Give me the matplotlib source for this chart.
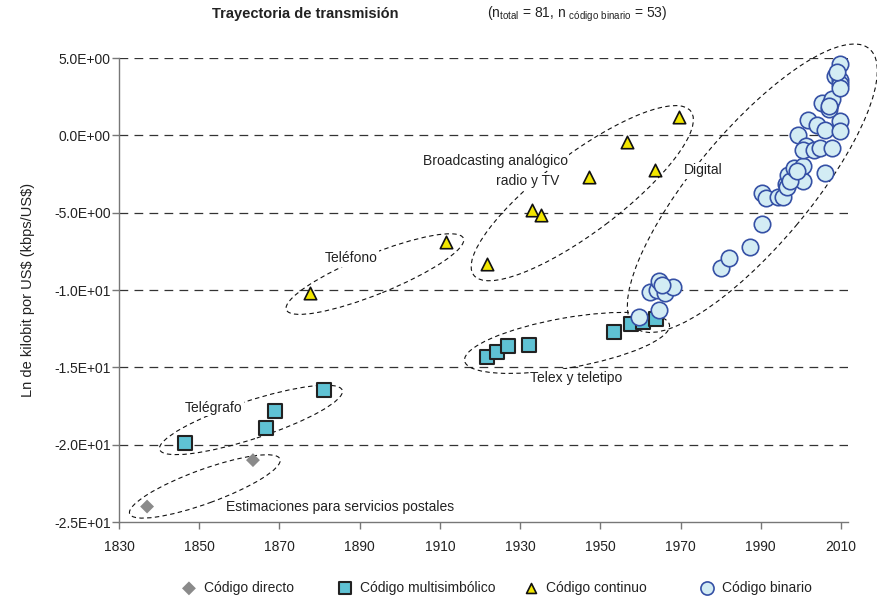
import matplotlib
matplotlib.use("Agg")
import matplotlib.pyplot as plt
from matplotlib.patches import Ellipse
from matplotlib.transforms import ScaledTranslation

plt.rcParams['font.family'] = ['Liberation Sans', 'DejaVu Sans']

# Data (year, ln kbps/US$)
directo_year = [1837.0, 1863.4]
directo_val = [-24.0, -21.0]

multi_year = [1846.5, 1866.6, 1868.8, 1881.1,
              1921.8, 1924.2, 1927.1, 1932.1, 1953.5, 1957.7, 1960.6, 1963.9]
multi_val = [-19.9, -18.9, -17.85, -16.45,
             -14.35, -14.0, -13.6, -13.55, -12.7, -12.2, -12.1, -11.9]

continuo_year = [1877.6, 1911.6, 1921.7, 1933.0, 1935.1, 1947.3, 1956.6, 1963.7, 1969.7]
continuo_val = [-10.2, -6.9, -8.3, -4.85, -5.15, -2.7, -0.43, -2.26, 1.18]

binario_year = [1959.7, 1964.7, 1962.4, 1964.2, 1966.2, 1968.1, 1964.7, 1965.5,
                1980.0, 1982.2, 1987.4, 1990.3, 1990.3, 1991.3, 1994.4, 1995.5,
                1996.3, 1996.9, 1998.6, 1999.7, 2000.6, 1996.5, 1997.4, 1998.3,
                2000.6, 2005.9, 1999.0, 1999.4, 2001.3, 2000.6, 2003.2, 2004.7,
                2007.7, 2001.9, 2004.0, 2005.9, 2009.8, 2009.8, 2005.2, 2007.3,
                2007.7, 2006.9, 2007.0, 2009.8, 2008.6, 2009.8, 2009.8, 2009.8,
                2009.0]
binario_val = [-11.74, -11.29, -10.11, -10.0, -10.17, -9.83, -9.42, -9.7,
               -8.6, -7.95, -7.25, -5.76, -3.76, -4.06, -3.97, -4.0,
               -3.12, -2.58, -2.69, -2.73, -2.95, -3.34, -2.95, -2.11,
               -2.0, -2.43, -2.3, 0.0, -0.71, -0.92, -0.97, -0.79,
               -0.79, 1.01, 0.65, 0.32, 0.92, 0.28, 2.08, 2.05,
               2.37, 1.72, 1.9, 4.58, 3.81, 3.55, 3.35, 3.08,
               4.1]

xticks = [1830, 1850, 1870, 1890, 1910, 1930, 1950, 1970, 1990, 2010]
yticks = [5, 0, -5, -10, -15, -20, -25]
ytick_labels = ['5.0E+00', '0.0E+00', '-5.0E+00', '-1.0E+01', '-1.5E+01', '-2.0E+01', '-2.5E+01']

legend_labels = ['Código directo', 'Código multisimbólico', 'Código continuo', 'Código binario']
legend_x = [182, 338, 524, 700]   # pixel position of each legend entry

# grouping ellipses: centre (year, value), width/height in pixels, angle (deg)
groups = [
    (1851.4, -22.7, 160, 34, 20),
    (1862.9, -18.4, 192, 38, 18),
    (1893.8, -8.97, 191, 40, 22),
    (1945.5, -3.74, 272, 78, 37),
    (1941.7, -13.42, 208, 50, 10),
    (1987.9, -3.42, 364, 115, 50),
]

fig = plt.figure(figsize=(8.78, 6.0), dpi=100)
ax = fig.add_axes([119 / 878, 78 / 600, 729 / 878, 464 / 600])
ax.set_xlim(1830, 2011.75)
ax.set_ylim(-25, 5)

for y in yticks[:-1]:
    ax.axhline(y, color='#333333', lw=0.9, ls=(0, (7, 5)), zorder=1)

for s in ['top', 'right']:
    ax.spines[s].set_visible(False)
for s in ['left', 'bottom']:
    ax.spines[s].set_color('#777777')
    ax.spines[s].set_linewidth(1.0)

ax.set_xticks(xticks)
ax.set_yticks(yticks)
ax.set_yticklabels(ytick_labels)
ax.tick_params(axis='both', colors='#777777', labelcolor='#222222', labelsize=10, length=5, width=1.0)
ax.tick_params(axis='y', pad=1)
ax.tick_params(axis='x', pad=8)
ax.set_ylabel(r'Ln de kilobit por US\$ (kbps/US\$)', fontsize=10.5, color='#222222', labelpad=14)

for cx, cy, w, h, ang in groups:
    tr = fig.dpi_scale_trans + ScaledTranslation(cx, cy, ax.transData)
    e = Ellipse((0, 0), w / 100, h / 100, angle=ang, transform=tr, fill=False,
                ec='#111111', lw=0.8, ls=(0, (4, 3)), zorder=2, clip_on=False)
    ax.add_patch(e)

h1 = ax.scatter(directo_year, directo_val, marker='D', s=50, c='#8a8a8a', edgecolors='none',
                zorder=4, clip_on=False)
h2 = ax.scatter(multi_year, multi_val, marker='s', s=110, c='#5fc2d4', edgecolors='#222222',
                linewidths=1.5, zorder=4, clip_on=False)
h3 = ax.scatter(continuo_year, continuo_val, marker='^', s=80, c='#f2e600', edgecolors='#111111',
                linewidths=1.2, zorder=4, clip_on=False)
h4 = ax.scatter(binario_year, binario_val, marker='o', s=140, c='#d3ecf4', edgecolors='#3550a5',
                linewidths=1.2, zorder=5, clip_on=False)

box = dict(fc='white', ec='none', pad=1)
txt = dict(fontsize=10, color='#222222', ha='center', va='center', zorder=3, bbox=box)
ax.text(1887.9, -7.94, 'Teléfono', **txt)
ax.text(1923.8, -1.68, 'Broadcasting analógico', **txt)
ax.text(1932.0, -2.97, 'radio y TV', **txt)
ax.text(1975.6, -2.26, 'Digital', **txt)
ax.text(1944.0, -15.68, 'Telex y teletipo', **txt)
ax.text(1853.7, -17.6, 'Telégrafo', **txt)
ax.text(1885.1, -24.06, 'Estimaciones para servicios postales', **txt)

fig.text(305 / 878, 1 - 14 / 600, 'Trayectoria de transmisión', fontsize=10.5, fontweight='bold',
         ha='center', va='center', color='#222222')
fig.text(487 / 878, 1 - 14 / 600,
         r'(n$_\mathregular{total}$ = 81, n $_\mathregular{código\ binario}$ = 53)',
         fontsize=10, ha='left', va='center', color='#222222')

legend_scale = [1.0, 0.8, 0.8, 0.8]
for h, lab, lx, ms in zip([h1, h2, h3, h4], legend_labels, legend_x, legend_scale):
    fig.legend([h], [lab], loc='center left', bbox_to_anchor=(lx / 878, 1 - 588 / 600),
               frameon=False, fontsize=10, markerscale=ms, handlelength=1.0,
               handletextpad=0.6, borderpad=0, borderaxespad=0, labelcolor='#222222')

fig.savefig('out.png', dpi=100)
